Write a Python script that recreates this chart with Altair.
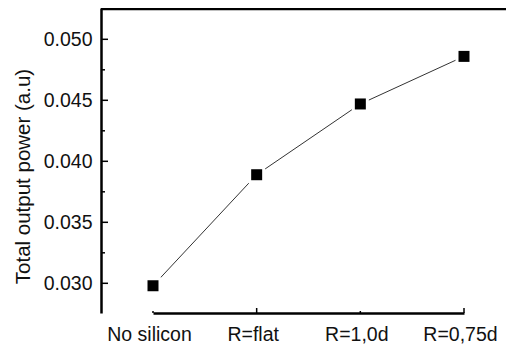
import altair as alt
import pandas as pd

categories = ["No silicon", "R=flat", "R=1,0d", "R=0,75d"]
power = [0.0298, 0.0389, 0.0447, 0.0486]

y_major = [0.030, 0.035, 0.040, 0.045, 0.050]
y_minor = [0.0325, 0.0375, 0.0425, 0.0475]
x_major = ["R=flat", "R=0,75d"]
x_minor = ["No silicon", "R=1,0d"]

W, H = 405, 305
FONT = "Liberation Sans"

df = pd.DataFrame({"cat": categories, "power": power})

xscale = alt.Scale(type="point", domain=categories, range=[52, 363], padding=0)
yscale = alt.Scale(domain=[0.027566, 0.052566], nice=False, zero=False)

xenc = alt.X("cat:N", scale=xscale, sort=categories,
             axis=alt.Axis(title=None, labelAngle=0, ticks=False, grid=False,
                           domainColor="black", domainWidth=2.5,
                           labelFont=FONT, labelFontSize=19.5, labelColor="#111",
                           labelPadding=27, labelBaseline="alphabetic", labelOffset=-4))
yenc = alt.Y("power:Q", scale=yscale,
             axis=alt.Axis(title="Total output power (a.u)", values=y_major, format=".3f",
                           ticks=False, grid=False, domainColor="black", domainWidth=2.5,
                           labelFont=FONT, labelFontSize=19.5, labelColor="#111", labelPadding=9,
                           titleFont=FONT, titleFontSize=20.5, titleFontWeight="normal",
                           titleColor="#111", titleAngle=-90, titleAlign="center",
                           titleBaseline="middle", titleX=-78, titleY=168))

line = alt.Chart(df).mark_line(color="#333", strokeWidth=1).encode(x=xenc, y=yenc)
halo = alt.Chart(df).mark_point(shape="square", filled=True, color="white", opacity=1, size=289).encode(
    x=alt.X("cat:N", scale=xscale, sort=categories), y=alt.Y("power:Q", scale=yscale))
pts = alt.Chart(df).mark_point(shape="square", filled=True, color="black", opacity=1, size=121).encode(
    x=alt.X("cat:N", scale=xscale, sort=categories), y=alt.Y("power:Q", scale=yscale))

ymaj = alt.Chart(pd.DataFrame({"v": y_major})).mark_rule(color="black", strokeWidth=1.5).encode(
    y=alt.Y("v:Q", scale=yscale), x=alt.value(0), x2=alt.value(7))
ymin = alt.Chart(pd.DataFrame({"v": y_minor})).mark_rule(color="black", strokeWidth=1.5).encode(
    y=alt.Y("v:Q", scale=yscale), x=alt.value(0), x2=alt.value(4))
xmaj = alt.Chart(pd.DataFrame({"c": x_major})).mark_rule(color="black", strokeWidth=1.5).encode(
    x=alt.X("c:N", scale=xscale, sort=categories), y=alt.value(H), y2=alt.value(H - 5))
xmin = alt.Chart(pd.DataFrame({"c": x_minor})).mark_rule(color="black", strokeWidth=1.5).encode(
    x=alt.X("c:N", scale=xscale, sort=categories), y=alt.value(H), y2=alt.value(H - 2))
top = alt.Chart(pd.DataFrame({"c": [0]})).mark_rule(color="black", strokeWidth=2.5).encode(
    y=alt.value(1), x=alt.value(0), x2=alt.value(W))

chart = alt.layer(line, halo, pts, ymaj, ymin, xmaj, xmin, top).properties(
    width=W, height=H,
    autosize=alt.AutoSizeParams(type="none"),
    padding={"left": 93, "top": 0, "right": 0, "bottom": 32},
    background="white",
).configure_view(stroke=None)

chart.save("out.html", embed_options={"renderer": "svg", "actions": False})
